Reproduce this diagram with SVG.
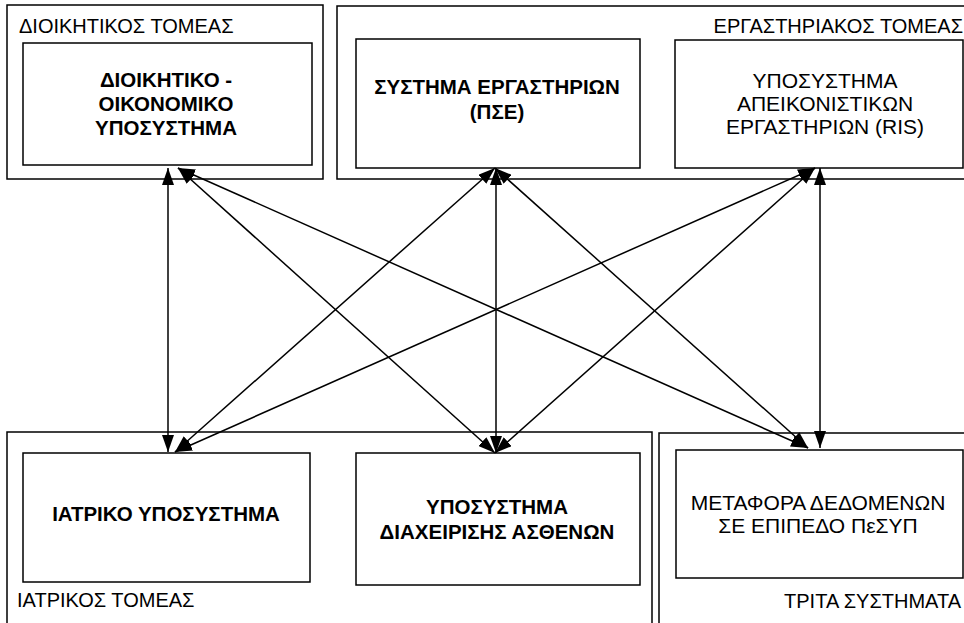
<svg xmlns="http://www.w3.org/2000/svg" width="964" height="623" viewBox="0 0 964 623">
<style>
.box{fill:none;stroke:#000;stroke-width:1.5}
.sec{font-family:"Liberation Sans",Arial,sans-serif;font-size:20px;fill:#000}
.b{font-family:"Liberation Sans",Arial,sans-serif;font-size:20.5px;font-weight:bold;fill:#000;text-anchor:middle}
.r{font-family:"Liberation Sans",Arial,sans-serif;font-size:21px;fill:#000;text-anchor:middle}
.c{stroke:#000;stroke-width:1.5;fill:none;marker-start:url(#ah);marker-end:url(#ah)}
</style>
<defs>
<marker id="ah" viewBox="0 0 17 12" refX="17" refY="6" markerWidth="17" markerHeight="12" markerUnits="userSpaceOnUse" orient="auto-start-reverse">
<path d="M0,0 L17,6 L0,12 Z" fill="#000"/>
</marker>
</defs>
<rect width="964" height="623" fill="#fff"/>
<g id="sector-admin">
<rect class="box" x="7" y="5" width="316" height="174"/>
<text class="sec" x="19" y="33">ΔΙΟΙΚΗΤΙΚΟΣ ΤΟΜΕΑΣ</text>
</g>
<g id="sector-lab">
<path class="box" d="M966,6 H337 V179 H966"/>
<text class="sec" x="963" y="33" text-anchor="end">ΕΡΓΑΣΤΗΡΙΑΚΟΣ ΤΟΜΕΑΣ</text>
</g>
<g id="sector-med">
<path class="box" d="M7,625 V432 H652 V625"/>
<text class="sec" x="17" y="607">ΙΑΤΡΙΚΟΣ ΤΟΜΕΑΣ</text>
</g>
<g id="sector-third">
<path class="box" d="M659,625 V433 H966"/>
<text class="sec" x="961" y="608" text-anchor="end">ΤΡΙΤΑ ΣΥΣΤΗΜΑΤΑ</text>
</g>
<g id="node-admin">
<rect class="box" x="23" y="43" width="289" height="122"/>
<text class="b" x="166" y="87">ΔΙΟΙΚΗΤΙΚΟ -</text>
<text class="b" x="166" y="111">ΟΙΚΟΝΟΜΙΚΟ</text>
<text class="b" x="166" y="135">ΥΠΟΣΥΣΤΗΜΑ</text>
</g>
<g id="node-pse">
<rect class="box" x="356" y="39" width="284" height="129"/>
<text class="b" x="497" y="94">ΣΥΣΤΗΜΑ ΕΡΓΑΣΤΗΡΙΩΝ</text>
<text class="b" x="497" y="119">(ΠΣΕ)</text>
</g>
<g id="node-ris">
<rect class="box" x="675" y="40" width="288" height="128"/>
<text class="r" x="825" y="88">ΥΠΟΣΥΣΤΗΜΑ</text>
<text class="r" x="825" y="111">ΑΠΕΙΚΟΝΙΣΤΙΚΩΝ</text>
<text class="r" x="825" y="134">ΕΡΓΑΣΤΗΡΙΩΝ (RIS)</text>
</g>
<g id="node-med">
<rect class="box" x="23" y="453" width="287" height="129"/>
<text class="b" x="166" y="521">ΙΑΤΡΙΚΟ ΥΠΟΣΥΣΤΗΜΑ</text>
</g>
<g id="node-patient">
<rect class="box" x="356" y="453" width="284" height="132"/>
<text class="b" x="497" y="514">ΥΠΟΣΥΣΤΗΜΑ</text>
<text class="b" x="497" y="539">ΔΙΑΧΕΙΡΙΣΗΣ ΑΣΘΕΝΩΝ</text>
</g>
<g id="node-data">
<rect class="box" x="676" y="450" width="287" height="128"/>
<text class="r" x="818" y="510">ΜΕΤΑΦΟΡΑ ΔΕΔΟΜΕΝΩΝ</text>
<text class="r" x="818" y="533">ΣΕ ΕΠΙΠΕΔΟ ΠεΣΥΠ</text>
</g>
<g id="connectors">
<line class="c" x1="168" y1="168" x2="168" y2="452"/>
<line class="c" x1="178" y1="168" x2="495" y2="453"/>
<line class="c" x1="178" y1="168" x2="808" y2="448"/>
<line class="c" x1="495" y1="168" x2="175" y2="452"/>
<line class="c" x1="496" y1="168" x2="496" y2="453"/>
<line class="c" x1="495" y1="168" x2="808" y2="448"/>
<line class="c" x1="815" y1="168" x2="175" y2="452"/>
<line class="c" x1="815" y1="168" x2="495" y2="453"/>
<line class="c" x1="820" y1="168" x2="820" y2="448"/>
</g>
</svg>
